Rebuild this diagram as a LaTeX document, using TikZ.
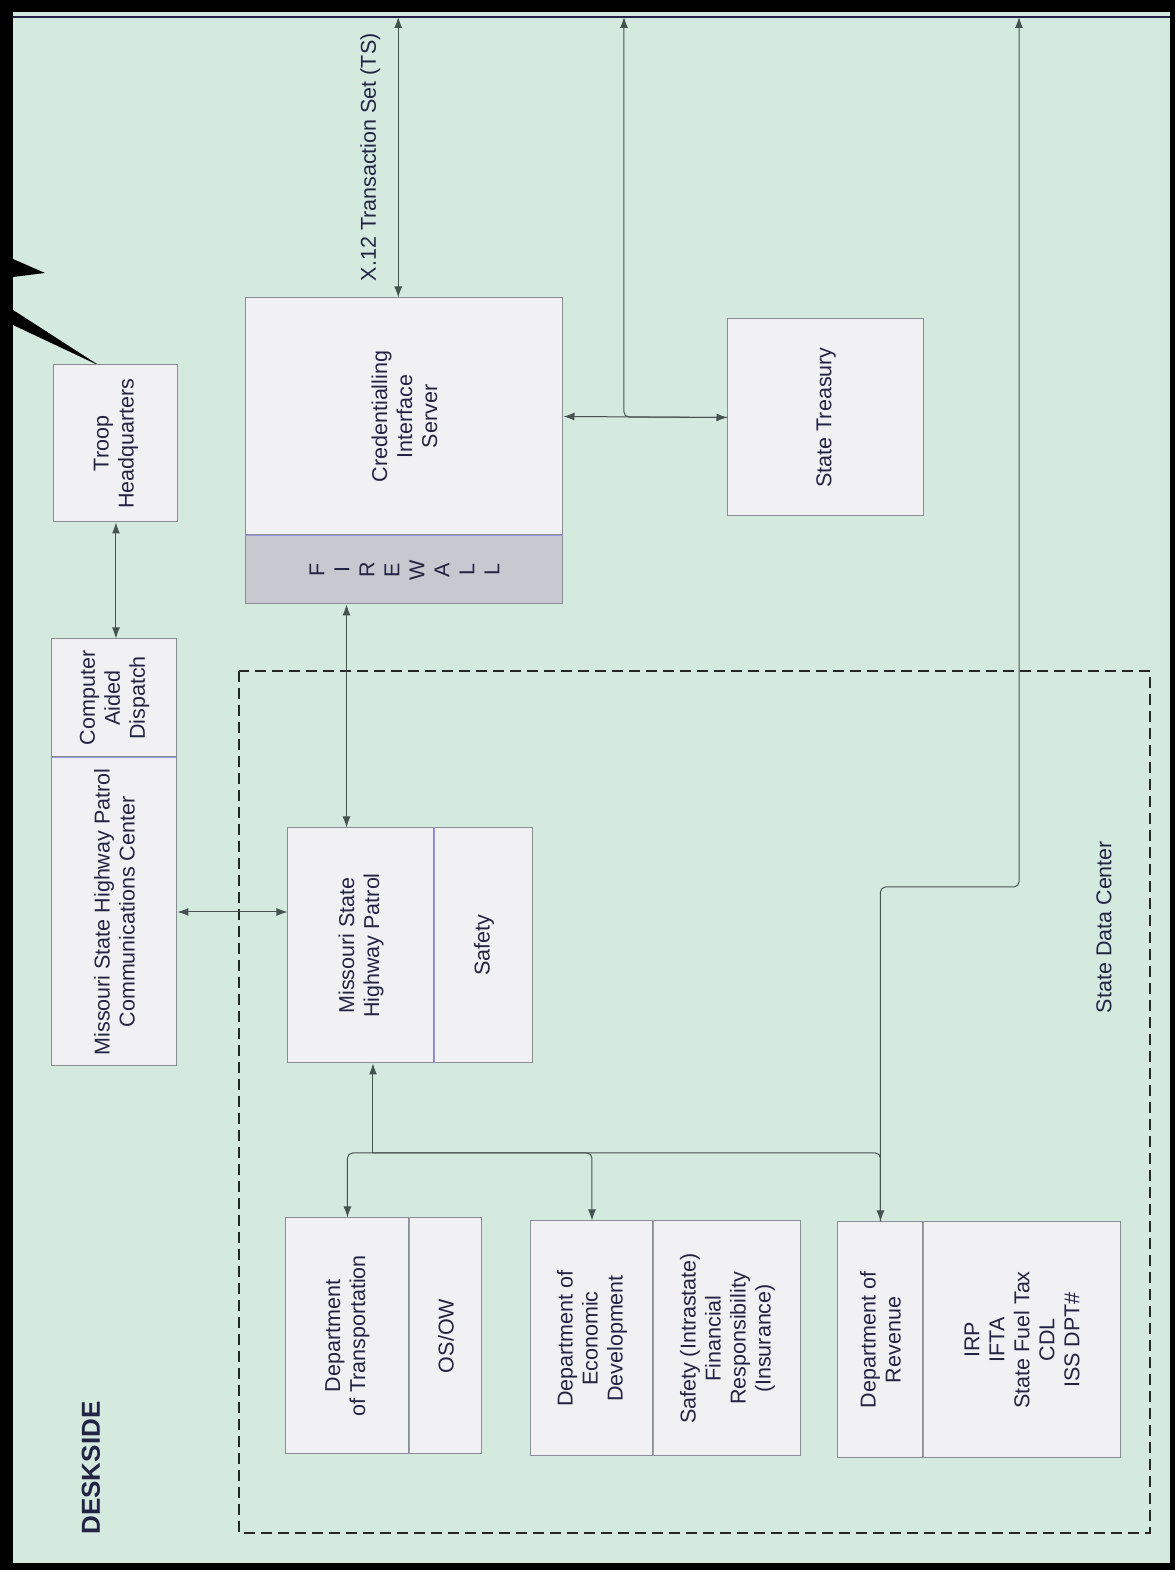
\documentclass[tikz,border=0pt]{standalone}
\usepackage{fontspec}
\setmainfont{Liberation Sans}
\usetikzlibrary{arrows.meta,positioning}
\definecolor{deskbg}{RGB}{213,234,223}
\definecolor{boxfill}{RGB}{241,241,244}
\definecolor{boxline}{RGB}{140,140,152}
\definecolor{wallfill}{RGB}{200,200,208}
\definecolor{inktext}{RGB}{35,35,70}
\definecolor{wire}{RGB}{70,82,82}
\definecolor{divline}{RGB}{150,150,225}

\begin{document}
\begin{tikzpicture}[x=1pt,y=1pt,rotate=90,transform shape,
  font=\fontsize{21.5}{25}\selectfont,text=inktext,
  >={Latex[length=11pt,width=8pt]},
  box/.style={draw=boxline,fill=boxfill,line width=1pt,align=center,inner sep=0pt},
  wire/.style={draw=wire,line width=1pt}]

\useasboundingbox (0,0) rectangle (1570,1175);
\fill[black] (0,0) rectangle (1570,1175);
\fill[deskbg] (7,5) rectangle (1558,1162);
\fill[black] (1311,1162) -- (1297,1130) -- (1293,1162) -- cycle;
\fill[black] (1260,1162) -- (1204,1075) -- (1245,1162) -- cycle;
\draw[line width=1.5pt,inktext] (1553,5) -- (1553,1162);
\coordinate (bus) at (1553,600);

\node[draw=black!85,line width=1.5pt,dash pattern=on 11pt off 6pt,minimum width=862,minimum height=911] (sdc) at (468,480.5) {};
\node (sdclabel) at (643,71) {State Data Center};
\node[font=\fontsize{26}{30}\selectfont\bfseries] (deskside) at (102,1084) {DESKSIDE};

\node[box,minimum width=157,minimum height=124] (troop) at (1126.5,1059) {Troop\\Headquarters};
\node[box,minimum width=118,minimum height=125] (cad) at (872,1060.5) {Computer\\Aided\\Dispatch};
\node[box,minimum width=308,minimum height=125,left=0pt of cad] (comm) {Missouri State Highway Patrol\\Communications Center};
\node[box,minimum width=237,minimum height=317] (cred) at (1153.5,770.5) {Credentialling\\Interface\\Server};
\node[box,fill=wallfill,minimum width=68,minimum height=317,left=0pt of cred] (fw) {F\\I\\R\\E\\W\\A\\L\\L};
\node[box,minimum width=197,minimum height=196] (treasury) at (1152.5,349) {State Treasury};

\node[box,minimum width=235,minimum height=146] (msp) at (624.5,814) {Missouri State\\Highway Patrol};
\node[box,minimum width=235,minimum height=98,below=0pt of msp] (mspsafety) {Safety};
\node[box,minimum width=236,minimum height=123] (dot) at (234,827.5) {Department\\of Transportation};
\node[box,minimum width=236,minimum height=72,below=0pt of dot] (osow) {OS/OW};
\node[box,minimum width=235,minimum height=122] (ded) at (231.5,583) {Department of\\Economic\\Development};
\node[box,minimum width=235,minimum height=147,below=0pt of ded] (dedsafety) {Safety (Intrastate)\\Financial\\Responsibility\\(Insurance)};
\node[box,minimum width=236,minimum height=85] (dor) at (230,294.5) {Department of\\Revenue};
\node[box,minimum width=236,minimum height=196,below=0pt of dor] (dorlist) {IRP\\IFTA\\State Fuel Tax\\CDL\\ISS DPT\#};

\draw[divline,line width=1pt] (cad.west) ++(0,-62) -- ++(0,124);
\draw[divline,line width=1pt] (cred.south west) -- (cred.north west);
\draw[divline,line width=1pt] (msp.south west) -- (msp.south east);
\draw[divline,line width=1pt] (dot.south west) -- (dot.south east);
\draw[divline,line width=1pt] (ded.south west) -- (ded.south east);
\draw[divline,line width=1pt] (dor.south west) -- (dor.south east);

\draw[wire,<->] (troop.west) -- (troop.west -| cad.east);
\draw[wire,<->] (comm.south) -- (comm.south |- msp.north);
\draw[wire,<->] (cred.3.6) -- node[above=14pt] (x12) {X.12 Transaction Set (TS)} (cred.3.6 -| bus);
\draw[wire,<->] (cred.south) -- (treasury.north);
\coordinate (tsplit) at (1153,551);
\draw[wire,->,rounded corners=5] (treasury.north) -- (tsplit) -- (tsplit -| bus);
\draw[wire,<->] (msp.7.3) -- (msp.7.3 -| fw.west);

\coordinate (dorbend) at (683,156);
\draw[wire,<->,rounded corners=5] (dor.east) -| (dorbend) -- (dorbend -| bus);
\coordinate (hub) at (417,802);
\draw[wire,->] (hub) -- (hub -| msp.west);
\draw[wire,->,rounded corners=5] (hub) |- (dot.east);
\draw[wire,->,rounded corners=5] (hub) |- (ded.east);
\draw[wire,rounded corners=5] (hub) |- (dor.east);
\end{tikzpicture}
\end{document}
